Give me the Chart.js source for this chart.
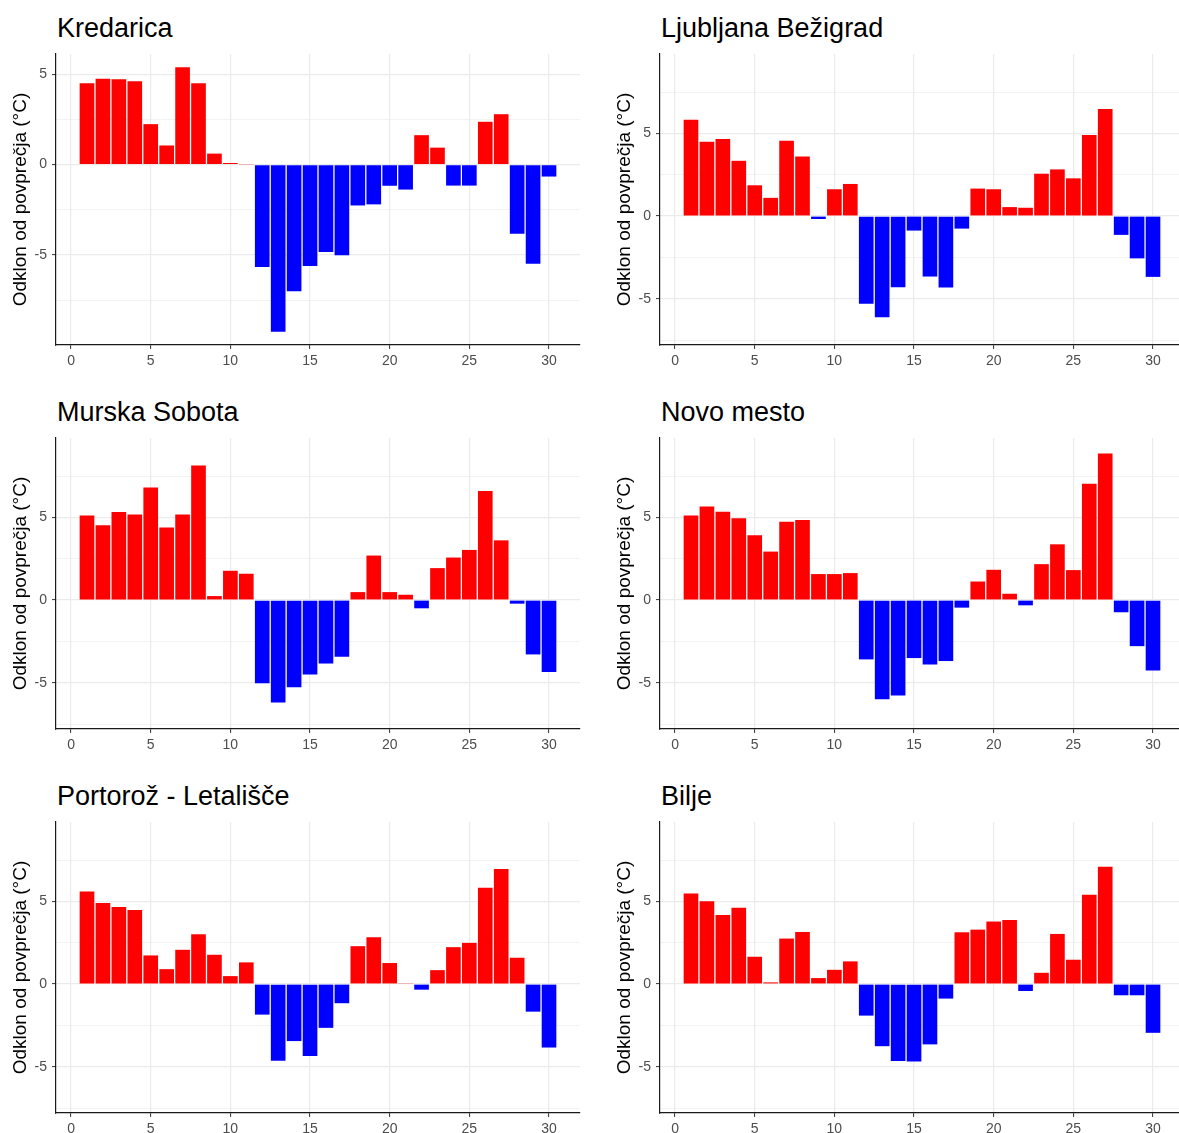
<!DOCTYPE html>
<html>
<head>
<meta charset="utf-8">
<script src="https://cdn.jsdelivr.net/npm/chart.js@4.4.0/dist/chart.umd.min.js"></script>
<style>
  body { margin: 0; background: #fff; overflow: hidden; }
  #wrap { position: relative; width: 1179px; height: 1133px; overflow: hidden; }
  .panel { position: absolute; width: 604px; height: 384px; }
  .panel h2 { position: absolute; left: 57px; top: 11px; margin: 0; font: 27px "Liberation Sans", Arial, sans-serif; font-weight: normal; line-height: 34px; color: #000; white-space: nowrap; }
  .panel canvas { position: absolute; left: 0; top: 0; }
</style>
</head>
<body>
<div id="wrap"></div>
<script>
// days of the month
var days = [1, 2, 3, 4, 5, 6, 7, 8, 9, 10, 11, 12, 13, 14, 15, 16, 17, 18, 19, 20, 21, 22, 23, 24, 25, 26, 27, 28, 29, 30];

var stations = ["Kredarica", "Ljubljana Bežigrad", "Murska Sobota", "Novo mesto", "Portorož - Letališče", "Bilje"];

// odklon od povprečja (°C)
var kredarica = [4.50, 4.75, 4.73, 4.62, 2.24, 1.06, 5.39, 4.50, 0.61, 0.09, 0.02, -5.67, -9.25, -7.01, -5.61, -4.83, -5.01, -2.26, -2.20, -1.17, -1.38, 1.63, 0.94, -1.16, -1.16, 2.37, 2.79, -3.82, -5.49, -0.66];
var ljubljana = [5.82, 4.50, 4.66, 3.34, 1.86, 1.10, 4.56, 3.60, -0.18, 1.62, 1.94, -5.30, -6.12, -4.30, -0.88, -3.66, -4.32, -0.76, 1.66, 1.62, 0.54, 0.50, 2.56, 2.82, 2.28, 4.90, 6.48, -1.14, -2.56, -3.68];
var murska = [5.12, 4.52, 5.32, 5.18, 6.81, 4.38, 5.18, 8.13, 0.24, 1.77, 1.59, -5.04, -6.20, -5.28, -4.50, -3.84, -3.43, 0.48, 2.69, 0.48, 0.32, -0.50, 1.93, 2.57, 3.03, 6.59, 3.61, -0.22, -3.29, -4.36];
var novoMesto = [5.12, 5.66, 5.34, 4.94, 3.92, 2.93, 4.74, 4.84, 1.57, 1.57, 1.63, -3.59, -6.00, -5.78, -3.51, -3.90, -3.69, -0.46, 1.12, 1.83, 0.38, -0.32, 2.17, 3.37, 1.81, 7.03, 8.86, -0.74, -2.79, -4.26];
var portoroz = [5.60, 4.90, 4.66, 4.48, 1.73, 0.90, 2.07, 3.01, 1.77, 0.48, 1.31, -1.85, -4.64, -3.45, -4.36, -2.65, -1.16, 2.29, 2.83, 1.27, 0.05, -0.34, 0.84, 2.23, 2.49, 5.82, 6.95, 1.59, -1.67, -3.84];
var bilje = [5.48, 5.00, 4.18, 4.62, 1.65, 0.10, 2.75, 3.15, 0.36, 0.86, 1.37, -1.91, -3.76, -4.66, -4.68, -3.65, -0.88, 3.13, 3.29, 3.78, 3.88, -0.42, 0.68, 3.03, 1.47, 5.40, 7.09, -0.68, -0.68, -2.95];

var series = [kredarica, ljubljana, murska, novoMesto, portoroz, bilje];

// y limits before the 5% expansion
var yLow = [-9.25, -7, -7, -7, -7, -7];
var yHigh = [5.39, 9, 9, 9, 9, 9];

var xTicks = [0, 5, 10, 15, 20, 25, 30];
var yLabel = "Odklon od povprečja (°C)";

var FONT = '"Liberation Sans", Arial, sans-serif';

function isMajor(v) {
  return Math.abs(v % 5) < 1e-9;
}

function drawPanel(i) {
  var wrap = document.getElementById("wrap");
  var div = document.createElement("div");
  div.className = "panel";
  div.style.left = (i % 2) * 604 + "px";
  div.style.top = Math.floor(i / 2) * 384 + "px";
  var h = document.createElement("h2");
  h.textContent = stations[i];
  var cv = document.createElement("canvas");
  cv.width = 604;
  cv.height = 384;
  div.appendChild(h);
  div.appendChild(cv);
  wrap.appendChild(div);

  var vals = series[i];
  var pts = [];
  var cols = [];
  for (var k = 0; k < days.length; k++) {
    pts.push({ x: days[k], y: vals[k] });
    cols.push(vals[k] >= 0 ? "#ff0000" : "#0000ff");
  }
  var pad = (yHigh[i] - yLow[i]) * 0.05;

  new Chart(cv, {
    type: "bar",
    data: {
      datasets: [{
        data: pts,
        backgroundColor: cols,
        borderWidth: 0,
        barPercentage: 0.92,
        categoryPercentage: 1
      }]
    },
    options: {
      responsive: false,
      animation: false,
      layout: { padding: { left: 0, right: 24, top: 54, bottom: 0 } },
      plugins: { legend: { display: false }, tooltip: { enabled: false } },
      scales: {
        x: {
          type: "linear",
          min: -0.945,
          max: 31.945,
          offset: false,
          afterFit: function (s) { s.height = 39; },
          afterBuildTicks: function (s) {
            s.ticks = xTicks.map(function (v) { return { value: v }; });
          },
          ticks: { color: "#4d4d4d", font: { family: FONT, size: 14 }, padding: 4, maxRotation: 0 },
          grid: { offset: false, color: "#ebebeb", lineWidth: 1.2, tickLength: 4, tickColor: "#333", tickWidth: 1 },
          border: { display: true, color: "#1a1a1a", width: 1.2 }
        },
        y: {
          min: yLow[i] - pad,
          max: yHigh[i] + pad,
          afterFit: function (s) { s.width = 56; },
          ticks: {
            stepSize: 2.5,
            includeBounds: false,
            color: "#4d4d4d",
            font: { family: FONT, size: 14 },
            padding: 5,
            callback: function (v) { return isMajor(v) ? String(v) : ""; }
          },
          grid: {
            color: "#ebebeb",
            lineWidth: function (c) { return isMajor(c.tick.value) ? 1.2 : 0.6; },
            tickLength: 4,
            tickColor: function (c) { return isMajor(c.tick.value) ? "#333" : "rgba(0,0,0,0)"; },
            tickWidth: 1
          },
          border: { display: true, color: "#1a1a1a", width: 1.2 },
          title: { display: true, text: yLabel, color: "#000", font: { family: FONT, size: 19 }, padding: { top: 9, bottom: 0 } }
        }
      }
    }
  });
}

for (var i = 0; i < stations.length; i++) {
  drawPanel(i);
}
</script>
</body>
</html>
